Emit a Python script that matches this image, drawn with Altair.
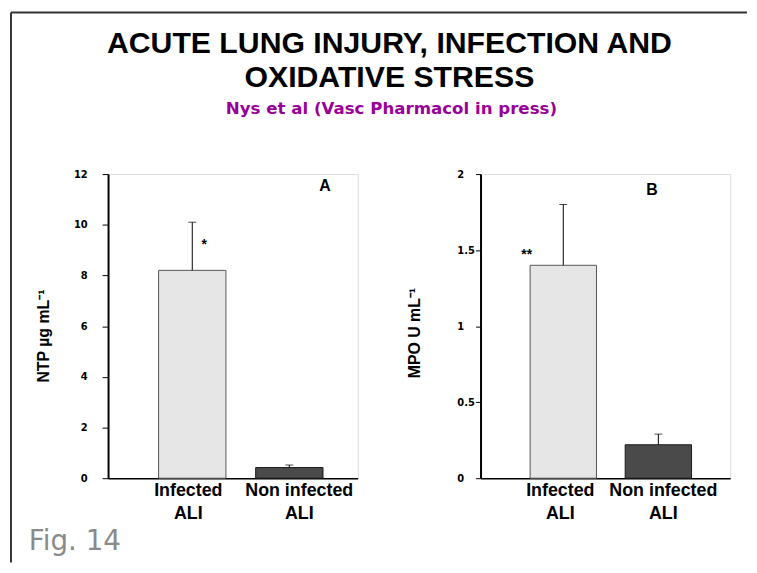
import altair as alt
import pandas as pd

# ---------------- data ----------------
categories = ["Infected ALI", "Non infected ALI"]
cat_labels = ["Infected\nALI", "Non infected\nALI"]
ntp_mean = [8.2, 0.42]
ntp_err = [1.9, 0.10]
mpo_mean = [1.40, 0.22]
mpo_err = [0.40, 0.07]
ntp_ticks = [0, 2, 4, 6, 8, 10, 12]
mpo_ticks = [0, 0.5, 1, 1.5, 2]
ntp_sig = ["*", ""]
ntp_sig_y = [9.2, 0]
mpo_sig = ["**", ""]
mpo_sig_y = [1.47, 0]
title_lines = ["ACUTE LUNG INJURY, INFECTION AND\nOXIDATIVE STRESS"]
subtitle = ["Nys et al (Vasc Pharmacol in press)"]
fig_label = ["Fig. 14"]

fill_colors = ["#e6e6e6", "#4a4a4a"]
stroke_colors = ["#555555", "#1a1a1a"]

W, H = 252, 307
BOLD = "Liberation Sans"
WIDE = "DejaVu Sans"


def panel(mean, err, sig, sig_y, sig_dx, ymax, ticks, ytitle, title_x, title_y,
          label_align, tick_size, label_pad, xscale, letter, letter_xy, label_dx):
    df = pd.DataFrame({"cat": categories, "mean": mean, "err": err,
                       "label": cat_labels, "sig": sig, "sig_y": sig_y})
    base = alt.Chart(df).transform_calculate(upper="datum.mean + datum.err")
    xaxis = alt.Axis(domain=True, domainColor="black", domainWidth=1.5,
                     ticks=False, labels=False, title=None, grid=False)
    yaxis = alt.Axis(values=ticks, format="~g", grid=False, domainColor="black",
                     domainWidth=2, tickColor="black", tickSize=tick_size,
                     labelFont=WIDE, labelFontWeight="bold", labelFontSize=10,
                     labelColor="black", labelAlign=label_align,
                     labelPadding=label_pad, labelBaseline="middle",
                     title=ytitle, titleFont=BOLD, titleFontSize=16,
                     titleFontWeight="bold", titleColor="black",
                     titleX=title_x, titleY=title_y, titleAngle=270,
                     titleBaseline="alphabetic", titleAlign="center")
    x = alt.X("cat:N", sort=categories, scale=xscale, axis=xaxis)
    yscale = alt.Scale(domain=[0, ymax], nice=False, zero=True)

    bars = base.mark_bar(strokeWidth=1).encode(
        x=x,
        y=alt.Y("mean:Q", scale=yscale, axis=yaxis),
        fill=alt.Fill("cat:N", scale=alt.Scale(domain=categories, range=fill_colors), legend=None),
        stroke=alt.Stroke("cat:N", scale=alt.Scale(domain=categories, range=stroke_colors), legend=None),
    )
    whisk = base.mark_rule(color="black", strokeWidth=1).encode(
        x=x, y=alt.Y("mean:Q", scale=yscale, axis=yaxis), y2="upper:Q")
    cap = base.mark_tick(color="black", thickness=1, size=8).encode(
        x=x, y=alt.Y("upper:Q", scale=yscale, axis=yaxis))
    star = base.transform_filter("datum.sig != ''").mark_text(
        font=BOLD, fontWeight="bold", fontSize=14, dx=sig_dx, baseline="middle",
        color="black").encode(x=x, y=alt.Y("sig_y:Q", scale=yscale, axis=yaxis), text="sig:N")
    labs = []
    for c, d in zip(categories, label_dx):
        labs.append(base.transform_filter(alt.datum.cat == c).mark_text(
            font=BOLD, fontWeight="bold", fontSize=18, lineBreak="\n", lineHeight=23,
            baseline="alphabetic", align="center", dx=d, color="black").encode(
            x=x, y=alt.value(H + 18), text="label:N"))
    let = alt.Chart(pd.DataFrame({"t": [letter]})).mark_text(
        font=BOLD, fontWeight="bold", fontSize=16, baseline="middle", align="center",
        color="black").encode(x=alt.value(letter_xy[0]), y=alt.value(letter_xy[1]), text="t:N")
    return [bars, whisk, cap, star, let] + labs


xs_a = alt.Scale(paddingInner=0.306, paddingOuter=0.439, align=0.593)
xs_b = alt.Scale(paddingInner=0.302, paddingOuter=0.464, align=0.562)

layers_a = panel(ntp_mean, ntp_err, ntp_sig, ntp_sig_y, 12, 12, ntp_ticks,
                 "NTP µg mL⁻¹", -60, 163, "right", 6, 15, xs_a, "A", (219, 12), [-4, 10])
layers_b = panel(mpo_mean, mpo_err, mpo_sig, mpo_sig_y, -37, 2, mpo_ticks,
                 "MPO U mL⁻¹", -62, 160, "left", 5, 19, xs_b, "B", (173, 16), [-3, 5])

one = pd.DataFrame({"k": [0]})
border_v = alt.Chart(one).mark_rule(color="#333333", strokeWidth=2).encode(
    x=alt.value(-98), y=alt.value(-163), y2=alt.value(392))
border_h = alt.Chart(one).mark_rule(color="#333333", strokeWidth=2).encode(
    x=alt.value(-98), x2=alt.value(645), y=alt.value(-163))
title = alt.Chart(pd.DataFrame({"t": title_lines})).mark_text(
    font=BOLD, fontWeight="bold", fontSize=30.5, lineBreak="\n", lineHeight=34,
    align="center", baseline="alphabetic", color="black").encode(
    x=alt.value(284), y=alt.value(-122), text="t:N")
sub = alt.Chart(pd.DataFrame({"t": subtitle})).mark_text(
    font=WIDE, fontWeight="bold", fontSize=16.8, align="center",
    baseline="alphabetic", color="#990099").encode(
    x=alt.value(286), y=alt.value(-61), text="t:N")
fig = alt.Chart(pd.DataFrame({"t": fig_label})).mark_text(
    font=WIDE, fontSize=28, align="left", baseline="alphabetic",
    color="#8a8a8a").encode(x=alt.value(-80), y=alt.value(379), text="t:N")

panel_a = alt.layer(*layers_a, border_v, border_h, title, sub, fig).properties(width=W, height=H)
panel_b = alt.layer(*layers_b).properties(width=W, height=H)

chart = alt.hconcat(panel_a, panel_b, spacing=124, bounds="flush").properties(
    padding={"left": 1, "top": 0, "right": 0, "bottom": 0}
).configure_view(stroke="#8c8c8c", strokeWidth=1).configure(background="white")

chart.save("out.html", embed_options={"renderer": "svg", "actions": False})
